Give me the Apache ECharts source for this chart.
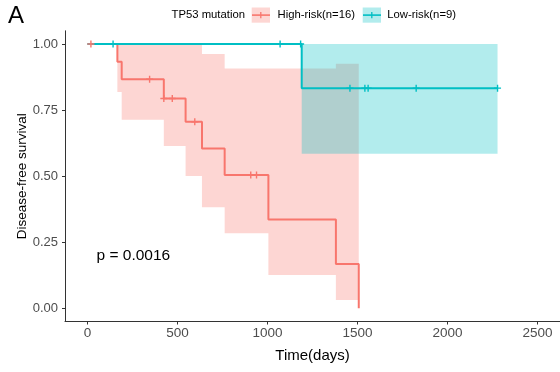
<!DOCTYPE html>
<html><head><meta charset="utf-8">
<script src="https://cdn.jsdelivr.net/npm/echarts@6/dist/echarts.min.js"></script>
<style>html,body{margin:0;padding:0;background:#fff}#c{width:560px;height:372px}</style>
</head><body><div id="c"></div>
<script>
// ---- data ----
const xTicks = [0, 500, 1000, 1500, 2000, 2500];
const yTicks = [0, 0.25, 0.5, 0.75, 1];
const highName = 'High-risk(n=16)';
const lowName = 'Low-risk(n=9)';
// Kaplan-Meier steps (time, survival)
const highTimes = [0, 166, 190, 424, 545, 636, 762, 1005, 1380, 1507];
const highSurv  = [1, 0.933, 0.867, 0.794, 0.706, 0.605, 0.504, 0.336, 0.168, 0];
const lowTimes  = [0, 1190, 2278];
const lowSurv   = [1, 0.833, 0.833];
// censor marks
const highCensorT = [19, 345, 424, 471, 596, 907, 939];
const highCensorS = [1, 0.867, 0.794, 0.794, 0.706, 0.504, 0.504];
const lowCensorT  = [142, 1070, 1184, 1458, 1541, 1559, 1826, 2278];
const lowCensorS  = [1, 1, 1, 0.833, 0.833, 0.833, 0.833, 0.833];
// confidence bands (step start times, lower, upper) and end time
const highBandT  = [166, 190, 424, 545, 636, 762, 1005, 1380];
const highBandLo = [0.818, 0.713, 0.614, 0.501, 0.382, 0.284, 0.126, 0.031];
const highBandUp = [1, 1, 1, 1, 0.962, 0.907, 0.907, 0.925];
const highBandEnd = 1507;
const lowBandT  = [1190];
const lowBandLo = [0.585];
const lowBandUp = [1];
const lowBandEnd = 2278;
const pText = 'p = 0.0016';

// ---- chart ----
const RED = '#F8766D', CYAN = '#00BFC4';
const FONT = '"Liberation Sans", Arial, sans-serif';
function zip(a, b) { return a.map((v, i) => [v, b[i]]); }
function bandRows(t, lo, up) { return t.map((v, i) => [v, lo[i], up[i]]); }
function bandRender(t, lo, up, endT, fill) {
  return function (params, api) {
    if (params.dataIndex !== 0) return null;
    const n = t.length, pts = [];
    for (let i = 0; i < n; i++) {
      const nx = i < n - 1 ? t[i + 1] : endT;
      pts.push(api.coord([t[i], up[i]]));
      pts.push(api.coord([nx, up[i]]));
    }
    for (let i = n - 1; i >= 0; i--) {
      const nx = i < n - 1 ? t[i + 1] : endT;
      pts.push(api.coord([nx, lo[i]]));
      pts.push(api.coord([t[i], lo[i]]));
    }
    return { type: 'polygon', shape: { points: pts }, style: { fill: fill } };
  };
}
const plus = 'path://M4,0H6V4H10V6H6V10H4V6H0V4H4Z';

const chart = echarts.init(document.getElementById('c'), null, { renderer: 'canvas' });
chart.setOption({
  animation: false,
  backgroundColor: '#fff',
  textStyle: { fontFamily: FONT },
  grid: { left: 65, top: 30.8, width: 497.6, height: 290.7, containLabel: false },
  xAxis: {
    type: 'value', min: -125, max: 2625,
    name: 'Time(days)', nameLocation: 'middle', nameGap: 27, nameMoveOverlap: false,
    nameTextStyle: { color: '#000', fontSize: 15, fontFamily: FONT },
    axisLine: { show: true, onZero: false, lineStyle: { color: '#333', width: 1 } },
    axisTick: { show: true, length: 3, customValues: xTicks, lineStyle: { color: '#333' } },
    axisLabel: { customValues: xTicks, color: '#4d4d4d', fontSize: 13.5, margin: 5, fontFamily: FONT,
      formatter: v => String(v) },
    splitLine: { show: false }
  },
  yAxis: {
    type: 'value', min: -0.05, max: 1.05,
    name: 'Disease-free survival', nameLocation: 'middle', nameGap: 36, nameMoveOverlap: false,
    nameTextStyle: { color: '#000', fontSize: 13.5, fontFamily: FONT },
    axisLine: { show: true, onZero: false, lineStyle: { color: '#333', width: 1 } },
    axisTick: { show: true, length: 3, customValues: yTicks, lineStyle: { color: '#333' } },
    axisLabel: { customValues: yTicks, color: '#4d4d4d', fontSize: 13, margin: 7, fontFamily: FONT,
      formatter: v => v.toFixed(2) },
    splitLine: { show: false }
  },
  graphic: [
    { type: 'text', left: 8, top: 4, style: { text: 'A', font: '24px ' + FONT, fill: '#000' } },
    { type: 'text', left: 96.5, top: 248, style: { text: pText, font: '15.5px ' + FONT, fill: '#000' } },
    { type: 'text', left: 171.5, top: 9.5, style: { text: 'TP53 mutation', font: '11.3px ' + FONT, fill: '#000' } },
    { type: 'rect', shape: { x: 251.7, y: 7.5, width: 18.3, height: 15.2 }, style: { fill: 'rgba(248,118,109,0.3)' } },
    { type: 'line', shape: { x1: 252, y1: 15.1, x2: 270, y2: 15.1 }, style: { stroke: RED, lineWidth: 1.6 } },
    { type: 'line', shape: { x1: 260.8, y1: 12, x2: 260.8, y2: 18.2 }, style: { stroke: RED, lineWidth: 1.3 } },
    { type: 'text', left: 277.5, top: 9.5, style: { text: highName, font: '11.3px ' + FONT, fill: '#000' } },
    { type: 'rect', shape: { x: 362.7, y: 7.5, width: 18.3, height: 15.2 }, style: { fill: 'rgba(0,191,196,0.3)' } },
    { type: 'line', shape: { x1: 363, y1: 15.1, x2: 381, y2: 15.1 }, style: { stroke: CYAN, lineWidth: 1.6 } },
    { type: 'line', shape: { x1: 371.8, y1: 12, x2: 371.8, y2: 18.2 }, style: { stroke: CYAN, lineWidth: 1.3 } },
    { type: 'text', left: 387.3, top: 9.5, style: { text: lowName, font: '11.3px ' + FONT, fill: '#000' } }
  ],
  series: [
    { type: 'custom', name: highName + ' CI', data: bandRows(highBandT, highBandLo, highBandUp),
      encode: { x: 0, y: [1, 2] }, z: 1,
      renderItem: bandRender(highBandT, highBandLo, highBandUp, highBandEnd, 'rgba(248,118,109,0.3)') },
    { type: 'custom', name: lowName + ' CI', data: bandRows(lowBandT, lowBandLo, lowBandUp),
      encode: { x: 0, y: [1, 2] }, z: 1,
      renderItem: bandRender(lowBandT, lowBandLo, lowBandUp, lowBandEnd, 'rgba(0,191,196,0.3)') },
    { type: 'line', name: highName, step: 'end', data: zip(highTimes, highSurv), symbol: 'none', z: 3,
      lineStyle: { color: RED, width: 2 } },
    { type: 'line', name: lowName, step: 'end', data: zip(lowTimes, lowSurv), symbol: 'none', z: 3,
      lineStyle: { color: CYAN, width: 2 } },
    { type: 'scatter', name: highName + ' censor', data: zip(highCensorT, highCensorS), symbol: plus,
      symbolSize: 7, itemStyle: { color: RED, opacity: 1 }, z: 4 },
    { type: 'scatter', name: lowName + ' censor', data: zip(lowCensorT, lowCensorS), symbol: plus,
      symbolSize: 7, itemStyle: { color: CYAN, opacity: 1 }, z: 4 }
  ]
});
</script></body></html>
